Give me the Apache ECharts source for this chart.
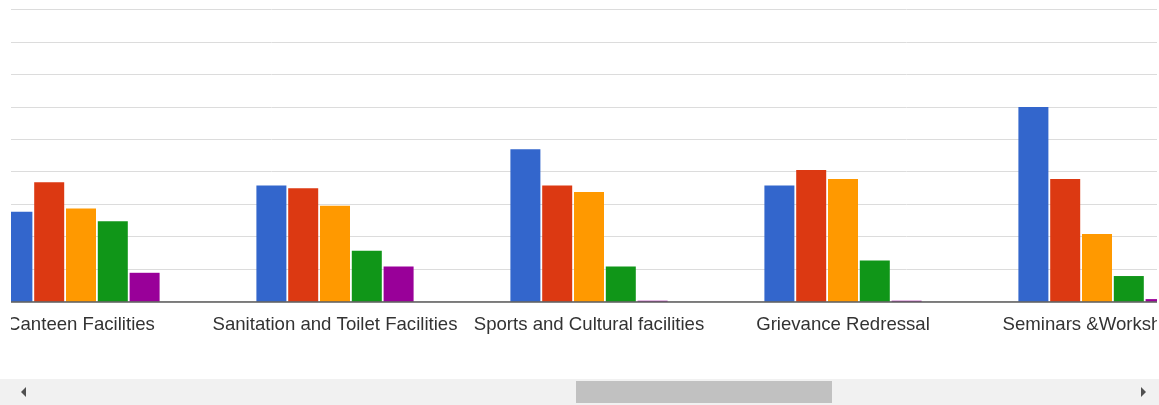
<!DOCTYPE html>
<html>
<head>
<meta charset="utf-8">
<script src="https://cdn.jsdelivr.net/npm/echarts@6/dist/echarts.min.js"></script>
<style>
  html, body { margin: 0; padding: 0; background: #fff; width: 1159px; height: 405px; overflow: hidden; }
  #clip { position: absolute; left: 11px; top: 0; width: 1146px; height: 378px; overflow: hidden; }
  #chart { position: absolute; left: -57.5px; top: 0; width: 1270px; height: 378px; }
  #track { position: absolute; left: 0; top: 379px; width: 1159px; height: 26px; background: #f1f1f1; }
  #thumb { position: absolute; left: 576px; top: 2px; width: 256px; height: 22px; background: #c1c1c1; }
  .arrowL { position: absolute; left: 21px; top: 8px; width: 0; height: 0; border-top: 5px solid transparent; border-bottom: 5px solid transparent; border-right: 5px solid #505050; }
  .arrowR { position: absolute; left: 1141px; top: 8px; width: 0; height: 0; border-top: 5px solid transparent; border-bottom: 5px solid transparent; border-left: 5px solid #505050; }
</style>
</head>
<body>
<div id="clip"><div id="chart"></div></div>
<div id="track"><div class="arrowL"></div><div id="thumb"></div><div class="arrowR"></div></div>
<script>
// Data (visible portion of a scrolled chart)
const categories = ['Canteen Facilities', 'Sanitation and Toilet Facilities', 'Sports and Cultural facilities', 'Grievance Redressal', 'Seminars &Workshops'];
const seriesNames = ['Excellent', 'Very Good', 'Good', 'Average', 'Poor'];
const s1 = [27.7, 35.8, 46.9, 35.8, 59.9];
const s2 = [36.8, 34.9, 35.8, 40.5, 37.8];
const s3 = [28.7, 29.5, 33.8, 37.8, 20.8];
const s4 = [24.8, 15.7, 10.8, 12.7, 7.9];
const s5 = [8.9, 10.8, 0.3, 0.3, 0.8];
const colors = ['#3366cc', '#dc3912', '#ff9900', '#109618', '#990099'];

const chart = echarts.init(document.getElementById('chart'), null, { renderer: 'canvas' });
const values = [s1, s2, s3, s4, s5];
chart.setOption({
  animation: false,
  grid: { left: 0, right: 0, top: 9.3, bottom: 378 - 301.7, containLabel: false },
  xAxis: {
    type: 'category',
    data: categories,
    axisTick: { show: false },
    axisLine: { show: true, lineStyle: { color: '#5a5a5a', width: 1.5 } },
    axisLabel: { interval: 0, color: '#333', fontSize: 18.6, fontFamily: 'Liberation Sans, Arial, sans-serif', margin: 13.5 },
    z: 10
  },
  yAxis: {
    type: 'value',
    min: 0, max: 90, interval: 10,
    axisLabel: { show: false },
    axisLine: { show: false },
    axisTick: { show: false },
    splitLine: { lineStyle: { color: '#dcdcdc', width: 1 } }
  },
  series: values.map((v, i) => ({
    name: seriesNames[i],
    type: 'bar',
    data: v,
    barWidth: 30,
    barGap: '6%',
    itemStyle: { color: colors[i] }
  }))
});
</script>
</body>
</html>
